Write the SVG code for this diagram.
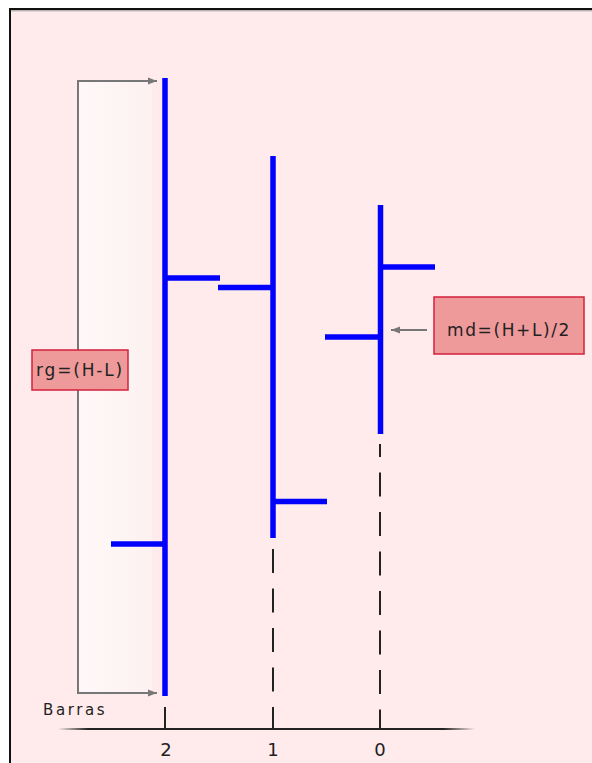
<svg xmlns="http://www.w3.org/2000/svg" width="592" height="763" viewBox="0 0 592 763">
<style>
.bar{stroke:#0000FF;stroke-width:5.5;fill:none;stroke-linecap:butt}
.dash{stroke:#222;stroke-width:2;fill:none;stroke-dasharray:24 15.5}
.gray{stroke:#777;stroke-width:2;fill:none}
.box{fill:#EE9A9A;stroke:#D4213D;stroke-width:1.5}
.lbl{font-family:"DejaVu Sans",Verdana,sans-serif;fill:#222}
</style>
<defs>
<marker id="arr" markerUnits="userSpaceOnUse" markerWidth="10" markerHeight="8" refX="9" refY="4" orient="auto">
<path d="M0,0.5 L9,4 L0,7.5 Z" fill="#777"/>
</marker>
<linearGradient id="axisG" gradientUnits="userSpaceOnUse" x1="58" y1="0" x2="475" y2="0">
<stop offset="0" stop-color="#222" stop-opacity="0"/>
<stop offset="0.072" stop-color="#222" stop-opacity="1"/>
<stop offset="0.923" stop-color="#222" stop-opacity="1"/>
<stop offset="1" stop-color="#222" stop-opacity="0"/>
</linearGradient>
<linearGradient id="fillG" x1="0" y1="0" x2="1" y2="0">
<stop offset="0" stop-color="#FFF8F8"/>
<stop offset="1" stop-color="#FDF1F1"/>
</linearGradient>
</defs>
<rect x="0" y="0" width="592" height="763" fill="#FFFFFF"/>
<rect x="10" y="9" width="620" height="800" fill="#FFEBEB" stroke="#111" stroke-width="2"/>
<line x1="11" y1="10.8" x2="592" y2="10.8" stroke="#999" stroke-width="1"/>

<g id="range-fill">
<rect x="79" y="82" width="73" height="610" fill="url(#fillG)"/>
</g>

<g id="connectors">
<path class="gray" d="M78,387 V81 H157" marker-end="url(#arr)"/>
<path class="gray" d="M78,387 V693 H157" marker-end="url(#arr)"/>
<line class="gray" x1="427" y1="330" x2="391" y2="330" marker-end="url(#arr)"/>
</g>

<g id="axis">
<line x1="58" y1="729" x2="475" y2="729" stroke="url(#axisG)" stroke-width="2"/>
<line x1="165" y1="707" x2="165" y2="729" stroke="#222" stroke-width="2"/>
<line class="dash" x1="273" y1="549" x2="273" y2="729"/>
<line class="dash" x1="380" y1="444" x2="380" y2="729" style="stroke-dashoffset:11"/>
<text class="lbl" x="166" y="756" font-size="18" text-anchor="middle">2</text>
<text class="lbl" x="273" y="756" font-size="18" text-anchor="middle">1</text>
<text class="lbl" x="380" y="756" font-size="18" text-anchor="middle">0</text>
<text class="lbl" x="43" y="715" font-size="15" letter-spacing="2.6">Barras</text>
</g>

<g id="bar2">
<line class="bar" x1="165" y1="78" x2="165" y2="696"/>
<line class="bar" x1="165" y1="278" x2="220" y2="278"/>
<line class="bar" x1="111" y1="544" x2="165" y2="544"/>
</g>

<g id="bar1">
<line class="bar" x1="273" y1="156" x2="273" y2="538"/>
<line class="bar" x1="218" y1="287.5" x2="273" y2="287.5"/>
<line class="bar" x1="273" y1="501.5" x2="327" y2="501.5"/>
</g>

<g id="bar0">
<line class="bar" x1="380.5" y1="205" x2="380.5" y2="434"/>
<line class="bar" x1="380.5" y1="267" x2="435" y2="267"/>
<line class="bar" x1="325" y1="337" x2="380.5" y2="337"/>
</g>

<g id="rg-label">
<rect class="box" x="32" y="350" width="96" height="40"/>
<text class="lbl" x="80" y="376" font-size="17" text-anchor="middle" letter-spacing="1.8">rg=(H-L)</text>
</g>

<g id="md-label">
<rect class="box" x="434" y="297" width="150" height="57"/>
<text class="lbl" x="509" y="336" font-size="17" text-anchor="middle" letter-spacing="1.6">md=(H+L)/2</text>
</g>
</svg>
